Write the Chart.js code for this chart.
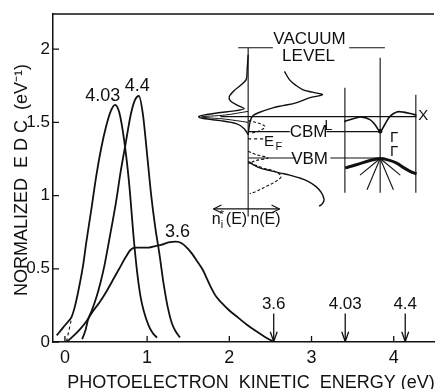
<!DOCTYPE html>
<html>
<head>
<meta charset="utf-8">
<script src="https://cdn.jsdelivr.net/npm/chart.js@4.4.1/dist/chart.umd.min.js"></script>
<style>
    html, body { margin: 0; padding: 0; background: #fff; }
    #box { width: 438px; height: 389px; }
</style>
</head>
<body>
<div id="box"><canvas id="edc-chart" width="438" height="389"></canvas></div>
<script>
// axis ticks
var xTicks = [0, 1, 2, 3, 4];
var yTicks = [0, 0.5, 1, 1.5, 2];
var yTickLabels = ['0', '0.5', '1', '1.5', '2'];

// EDC curves, photon energy 4.03 / 4.4 / 3.6 eV
var energy403 = [-0.10, -0.02, 0.04, 0.08, 0.12, 0.16, 0.22, 0.26, 0.32, 0.38, 0.44, 0.50, 0.56, 0.61, 0.66, 0.72, 0.78, 0.84, 0.88, 0.92, 0.96, 1.02, 1.07, 1.12];
var edc403 = [0.045, 0.10, 0.14, 0.17, 0.24, 0.34, 0.52, 0.68, 0.90, 1.13, 1.32, 1.47, 1.58, 1.62, 1.57, 1.38, 1.09, 0.69, 0.47, 0.31, 0.21, 0.11, 0.06, 0.03];

var energy44 = [0.21, 0.25, 0.28, 0.33, 0.38, 0.43, 0.48, 0.54, 0.62, 0.68, 0.74, 0.80, 0.85, 0.90, 0.95, 1.00, 1.05, 1.10, 1.15, 1.20, 1.25, 1.30, 1.35, 1.40];
var edc44 = [0.02, 0.08, 0.15, 0.22, 0.30, 0.40, 0.52, 0.70, 0.95, 1.17, 1.36, 1.55, 1.65, 1.68, 1.55, 1.28, 1.00, 0.78, 0.60, 0.40, 0.24, 0.13, 0.07, 0.03];

var energy36 = [0.02, 0.10, 0.18, 0.26, 0.34, 0.42, 0.50, 0.58, 0.66, 0.74, 0.80, 0.86, 0.94, 1.02, 1.10, 1.18, 1.26, 1.35, 1.42, 1.50, 1.55, 1.61, 1.68, 1.73, 1.78, 1.84, 1.91, 2.00, 2.11, 2.21, 2.31, 2.42, 2.54];
var edc36 = [0.0, 0.04, 0.085, 0.14, 0.21, 0.27, 0.34, 0.42, 0.50, 0.58, 0.63, 0.645, 0.645, 0.645, 0.655, 0.665, 0.68, 0.685, 0.675, 0.635, 0.60, 0.55, 0.49, 0.43, 0.37, 0.31, 0.265, 0.215, 0.165, 0.12, 0.08, 0.04, 0.0];

var curveNames = ['4.03', '4.4', '3.6'];
var curveLabelX = [0.46, 0.88, 1.37];
var curveLabelY = [1.68, 1.75, 0.75];

// threshold arrows on the energy axis
var thresholdNames = ['3.6', '4.03', '4.4'];
var thresholdX = [2.54, 3.41, 4.14];

// inset: density of states n(E) and n_i*(E)
var dosUpperX = [2.671, 2.731, 2.807, 2.892, 3.012, 3.133, 2.972, 2.811, 2.651, 2.530, 2.370, 2.289, 2.253, 2.229];
var dosUpperY = [1.848, 1.792, 1.754, 1.724, 1.706, 1.689, 1.667, 1.633, 1.614, 1.599, 1.569, 1.546, 1.505, 1.416];
var dosLowerX = [2.229, 2.289, 2.370, 2.494, 2.611, 2.735, 2.852, 2.964, 3.052, 3.120, 3.153, 3.133, 3.093];
var dosLowerY = [1.234, 1.212, 1.189, 1.171, 1.155, 1.140, 1.121, 1.096, 1.063, 1.020, 0.973, 0.945, 0.927];
var niX = [2.229, 2.217, 2.205, 2.133, 2.060, 2.000, 2.012, 2.084, 2.181, 2.084, 1.892, 1.687, 1.627, 1.687, 1.892, 2.084, 2.181, 2.229];
var niY = [1.962, 1.860, 1.792, 1.751, 1.717, 1.676, 1.648, 1.621, 1.594, 1.580, 1.567, 1.549, 1.539, 1.526, 1.512, 1.491, 1.457, 1.416];
var niThinX = [2.229, 1.95, 1.66, 1.95, 2.229];
var niThinY = [1.575, 1.550, 1.537, 1.522, 1.500];
var dashCbmX = [2.229, 2.373, 2.434, 2.373, 2.253];
var dashCbmY = [1.512, 1.491, 1.471, 1.444, 1.423];
var dashVbmX = [2.229, 2.325, 2.470, 2.325, 2.229];
var dashVbmY = [1.302, 1.280, 1.257, 1.239, 1.218];
var dashLowX = [2.249, 2.410, 2.551, 2.630, 2.570, 2.450, 2.329, 2.249];
var dashLowY = [1.224, 1.189, 1.166, 1.132, 1.098, 1.063, 1.029, 1.013];

// inset: band structure L - Gamma - X
var cbandX = [3.398, 3.506, 3.614, 3.711, 3.771, 3.835, 3.892, 3.952, 4.036, 4.120, 4.205, 4.277];
var cbandY = [1.505, 1.525, 1.536, 1.519, 1.485, 1.439, 1.485, 1.539, 1.571, 1.570, 1.560, 1.549];
var vbandX = [3.410, 3.554, 3.711, 3.835, 3.940, 4.036, 4.120, 4.205, 4.277];
var vbandY = [1.189, 1.212, 1.239, 1.253, 1.242, 1.222, 1.191, 1.164, 1.148];

// inset straight lines [x1, y1, x2, y2]
var insetLines = [
    [2.229, 2.010, 2.229, 0.857],
    [2.108, 2.010, 2.530, 2.010],
    [3.458, 2.010, 3.892, 2.010],
    [1.892, 1.539, 4.277, 1.539],
    [2.229, 1.437, 2.735, 1.437],
    [3.181, 1.437, 3.835, 1.437],
    [2.229, 1.257, 2.807, 1.257],
    [3.229, 1.257, 3.835, 1.257],
    [3.406, 1.737, 3.406, 1.020],
    [3.835, 1.942, 3.835, 1.020],
    [4.269, 1.689, 4.269, 1.020],
    [3.835, 1.253, 3.675, 1.040],
    [3.835, 1.253, 3.996, 1.040],
    [3.835, 1.253, 3.590, 1.140],
    [3.835, 1.253, 4.080, 1.140],
    [1.807, 0.909, 2.611, 0.909],
    [1.807, 0.909, 1.904, 0.935],
    [1.807, 0.909, 1.904, 0.883],
    [2.611, 0.909, 2.514, 0.935],
    [2.611, 0.909, 2.514, 0.883]
];
var insetDashed = [
    [2.229, 1.387, 2.422, 1.387],
    [0.02, 0.005, 0.08, 0.16]
];

// inset text [text, x, y, size]
var insetTexts = [
    ['VACUUM', 2.976, 2.065, 17],
    ['LEVEL', 2.964, 1.951, 17],
    ['CBM', 2.964, 1.432, 17],
    ['VBM', 2.976, 1.249, 17],
    ['L', 3.205, 1.471, 14],
    ['\u0393', 4.006, 1.396, 15],
    ['\u0393', 4.006, 1.297, 15],
    ['X', 4.358, 1.546, 15],
    ['n(E)', 2.44, 0.836, 16]
];

var ink = '#111';
var fontFamily = "'Liberation Sans', Arial, sans-serif";

function toPoints(xs, ys) {
    var out = [];
    for (var i = 0; i < xs.length; i++) {
        out.push({x: xs[i], y: ys[i]});
    }
    return out;
}

function lineSet(data, extra) {
    var ds = {
        data: data,
        showLine: true,
        borderColor: ink,
        borderWidth: 1.3,
        pointRadius: 0,
        tension: 0,
        fill: false
    };
    for (var k in extra) {
        ds[k] = extra[k];
    }
    return ds;
}

var datasets = [];
datasets.push(lineSet(toPoints(energy403, edc403), {borderWidth: 1.8, cubicInterpolationMode: 'monotone'}));
datasets.push(lineSet(toPoints(energy44, edc44), {borderWidth: 1.8, cubicInterpolationMode: 'monotone'}));
datasets.push(lineSet(toPoints(energy36, edc36), {borderWidth: 1.8, cubicInterpolationMode: 'monotone'}));

for (var i = 0; i < thresholdX.length; i++) {
    var xa = thresholdX[i];
    datasets.push(lineSet([{x: xa, y: 0.195}, {x: xa, y: 0.003}], {borderWidth: 1.3}));
    datasets.push(lineSet([{x: xa - 0.042, y: 0.07}, {x: xa, y: 0.003}, {x: xa + 0.042, y: 0.07}], {borderWidth: 1.3}));
}

insetLines.forEach(function (s) {
    datasets.push(lineSet([{x: s[0], y: s[1]}, {x: s[2], y: s[3]}], {borderWidth: 1.1}));
});
insetDashed.forEach(function (s) {
    datasets.push(lineSet([{x: s[0], y: s[1]}, {x: s[2], y: s[3]}], {borderWidth: 1.1, borderDash: [3, 3]}));
});

datasets.push(lineSet(toPoints(dosUpperX, dosUpperY), {tension: 0.35, borderWidth: 1.4}));
datasets.push(lineSet(toPoints(dosLowerX, dosLowerY), {tension: 0.35, borderWidth: 1.4}));
datasets.push(lineSet(toPoints(niX, niY), {tension: 0.3, borderWidth: 1.4}));
datasets.push(lineSet(toPoints(niThinX, niThinY), {tension: 0.3, borderWidth: 1}));
datasets.push(lineSet(toPoints(dashCbmX, dashCbmY), {tension: 0.35, borderWidth: 1.1, borderDash: [3, 2]}));
datasets.push(lineSet(toPoints(dashVbmX, dashVbmY), {tension: 0.35, borderWidth: 1.1, borderDash: [3, 2]}));
datasets.push(lineSet(toPoints(dashLowX, dashLowY), {tension: 0.35, borderWidth: 1.1, borderDash: [3, 2]}));
datasets.push(lineSet(toPoints(cbandX, cbandY), {tension: 0.35, borderWidth: 1.6}));
datasets.push(lineSet(toPoints(vbandX, vbandY), {tension: 0.35, borderWidth: 3}));
datasets.push({data: [{x: 3.835, y: 1.439}], showLine: false, pointRadius: 2.2, pointBackgroundColor: ink, pointBorderWidth: 0});

// ticks pointing inward, top frame line, and all the text labels
var decorations = {
    id: 'decorations',
    afterDraw: function (chart) {
        var ctx = chart.ctx;
        var xs = chart.scales.x;
        var ys = chart.scales.y;
        var area = chart.chartArea;
        ctx.save();
        ctx.strokeStyle = ink;
        ctx.lineWidth = 1.3;
        ctx.beginPath();
        xTicks.forEach(function (v) {
            var px = xs.getPixelForValue(v);
            ctx.moveTo(px, area.bottom);
            ctx.lineTo(px, area.bottom - 6);
        });
        yTicks.forEach(function (v) {
            var py = ys.getPixelForValue(v);
            ctx.moveTo(area.left, py);
            ctx.lineTo(area.left + 6, py);
        });
        ctx.moveTo(area.left, area.top);
        ctx.lineTo(area.right, area.top);
        ctx.stroke();

        ctx.fillStyle = ink;
        ctx.textAlign = 'center';
        ctx.textBaseline = 'middle';

        ctx.font = '18px ' + fontFamily;
        for (var i = 0; i < curveNames.length; i++) {
            ctx.fillText(curveNames[i], xs.getPixelForValue(curveLabelX[i]), ys.getPixelForValue(curveLabelY[i]));
        }
        ctx.font = '17px ' + fontFamily;
        for (var j = 0; j < thresholdNames.length; j++) {
            ctx.fillText(thresholdNames[j], xs.getPixelForValue(thresholdX[j]), ys.getPixelForValue(0.255));
        }
        insetTexts.forEach(function (t) {
            ctx.font = t[3] + 'px ' + fontFamily;
            ctx.fillText(t[0], xs.getPixelForValue(t[1]), ys.getPixelForValue(t[2]));
        });

        // E_F
        var ex = xs.getPixelForValue(2.482);
        var ey = ys.getPixelForValue(1.365);
        ctx.font = '15px ' + fontFamily;
        ctx.fillText('E', ex, ey);
        ctx.font = '11px ' + fontFamily;
        ctx.fillText('F', ex + 10, ey + 5);

        // n_i*(E)
        var nx = xs.getPixelForValue(1.994) - 17;
        var ny = ys.getPixelForValue(0.836);
        ctx.textAlign = 'left';
        ctx.font = '16px ' + fontFamily;
        ctx.fillText('n', nx, ny);
        ctx.font = '11px ' + fontFamily;
        ctx.fillText('i', nx + 9, ny + 5);
        ctx.fillText('*', nx + 8, ny - 5);
        ctx.font = '16px ' + fontFamily;
        ctx.fillText('(E)', nx + 14, ny);

        // axis titles
        ctx.textAlign = 'center';
        ctx.textBaseline = 'alphabetic';
        ctx.font = '18px ' + fontFamily;
        ctx.fillText('PHOTOELECTRON  KINETIC  ENERGY (eV)', 251, chart.height - 1);
        ctx.translate(27, (area.top + area.bottom) / 2 + 2);
        ctx.rotate(-Math.PI / 2);
        ctx.fillText('NORMALIZED  E D C  (eV\u207B\u00B9)', 0, 0);
        ctx.restore();
    }
};

var chart = new Chart(document.getElementById('edc-chart'), {
    type: 'scatter',
    data: { datasets: datasets },
    plugins: [decorations],
    options: {
        responsive: false,
        animation: false,
        devicePixelRatio: 1,
        layout: { padding: { top: 14, left: 0, right: 0, bottom: 0 } },
        plugins: {
            legend: { display: false },
            tooltip: { enabled: false }
        },
        scales: {
            x: {
                type: 'linear',
                min: -0.145,
                max: 4.49,
                afterBuildTicks: function (scale) {
                    scale.ticks = xTicks.map(function (v) { return {value: v}; });
                },
                afterFit: function (scale) { scale.height = 47; },
                grid: { display: false, drawTicks: false },
                border: { display: true, color: ink, width: 1.5 },
                ticks: {
                    color: ink,
                    padding: 5,
                    maxRotation: 0,
                    font: { family: fontFamily, size: 18 },
                    callback: function (v) { return String(v); }
                }
            },
            y: {
                type: 'linear',
                min: 0,
                max: 2.24,
                afterBuildTicks: function (scale) {
                    scale.ticks = yTicks.map(function (v) { return {value: v}; });
                },
                afterFit: function (scale) { scale.width = 53; },
                grid: { display: false, drawTicks: false },
                border: { display: true, color: ink, width: 1.5 },
                ticks: {
                    color: ink,
                    padding: 3,
                    font: { family: fontFamily, size: 17 },
                    callback: function (v) {
                        var idx = yTicks.indexOf(v);
                        return idx >= 0 ? yTickLabels[idx] : '';
                    }
                }
            }
        }
    }
});
</script>
</body>
</html>
